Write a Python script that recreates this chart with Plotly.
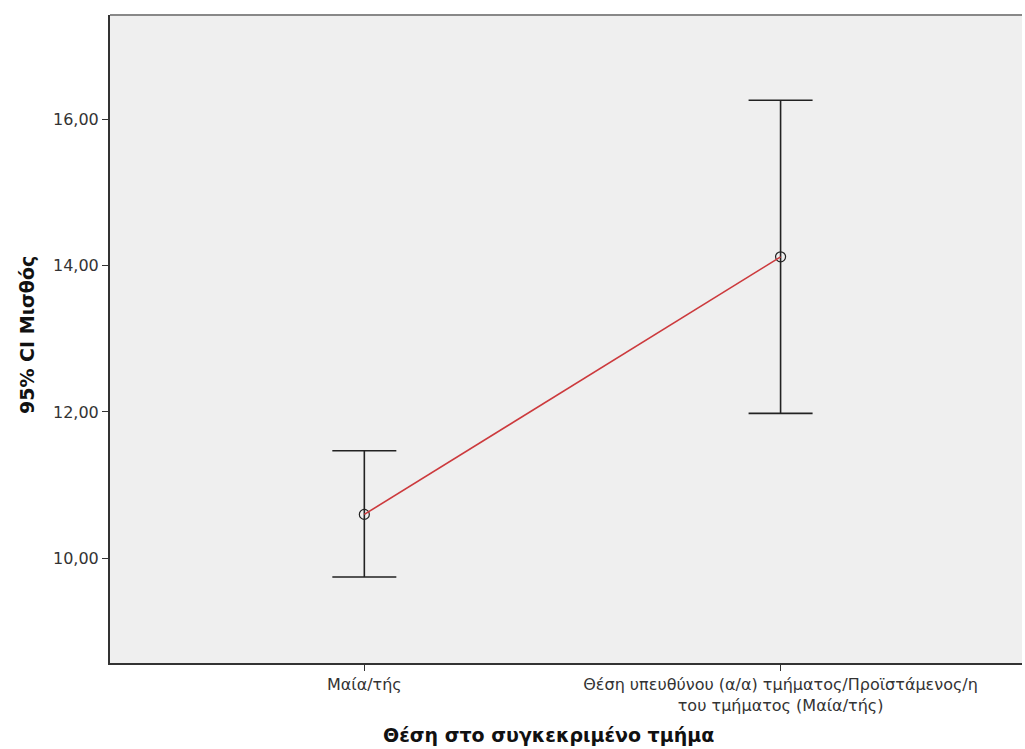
import plotly.graph_objects as go

# Group categories and 95% CI of salary per group
categories = ["Μαία/τής", "Θέση υπευθύνου (α/α) τμήματος/Προϊστάμενος/η<br>του τμήματος (Μαία/τής)"]
means = [10.60, 14.12]
ci_lower = [9.745, 11.98]
ci_upper = [11.47, 16.26]
y_ticks = [10, 12, 14, 16]
y_tick_text = ["10,00", "12,00", "14,00", "16,00"]

x_pos = list(range(len(categories)))
err_plus = [u - m for u, m in zip(ci_upper, means)]
err_minus = [m - l for m, l in zip(means, ci_lower)]

FONT = "DejaVu Sans, Verdana, sans-serif"
L, R, T, B = 110, 3, 15, 86
W, H = 1025, 749
plot_w = W - L - R
plot_h = H - T - B

fig = go.Figure()

# Error bars with circle markers
fig.add_trace(go.Scatter(
    x=x_pos, y=means, mode="markers",
    marker=dict(symbol="circle-open", size=10, color="#222222", line=dict(width=1.2)),
    error_y=dict(type="data", symmetric=False, array=err_plus, arrayminus=err_minus,
                 color="#222222", thickness=1.6, width=32),
    showlegend=False, hoverinfo="skip",
))

# Line joining the means
fig.add_trace(go.Scatter(
    x=x_pos, y=means, mode="lines",
    line=dict(color="#cc3a3d", width=1.6),
    showlegend=False, hoverinfo="skip",
))

fig.update_layout(
    width=W, height=H,
    margin=dict(l=L, r=R, t=T, b=B),
    paper_bgcolor="white",
    plot_bgcolor="#efefef",
    font=dict(family=FONT, color="#333333"),
    xaxis=dict(
        range=[-0.611, 1.58],
        tickvals=x_pos, ticktext=categories,
        ticks="outside", ticklen=6, tickcolor="#333333", tickwidth=1,
        showline=True, linecolor="#333333", linewidth=2,
        showgrid=False, zeroline=False,
        tickfont=dict(size=16, color="#333333", family=FONT),
    ),
    yaxis=dict(
        range=[8.569, 17.425],
        tickvals=y_ticks, ticktext=y_tick_text,
        ticks="outside", ticklen=6, tickcolor="#333333", tickwidth=1,
        showline=True, linecolor="#333333", linewidth=2,
        showgrid=False, zeroline=False,
        tickfont=dict(size=16, color="#333333", family=FONT),
    ),
    shapes=[
        dict(type="line", xref="paper", yref="paper", x0=0, x1=1, y0=1, y1=1,
             line=dict(color="#888888", width=2)),
    ],
    annotations=[
        dict(text="<b>Θέση στο συγκεκριμένο τμήμα</b>", xref="paper", yref="paper",
             x=(548 - L) / plot_w, y=-(735 - (H - B)) / plot_h,
             yanchor="middle", xanchor="center",
             showarrow=False, font=dict(size=19, color="#111111", family=FONT)),
        dict(text="<b>95% CI Μισθός</b>", xref="paper", yref="paper",
             x=(27 - L) / plot_w, y=(H - B - 335) / plot_h, textangle=-90,
             yanchor="middle", xanchor="center",
             showarrow=False, font=dict(size=19, color="#111111", family=FONT)),
    ],
)

fig.write_html("out.html")
